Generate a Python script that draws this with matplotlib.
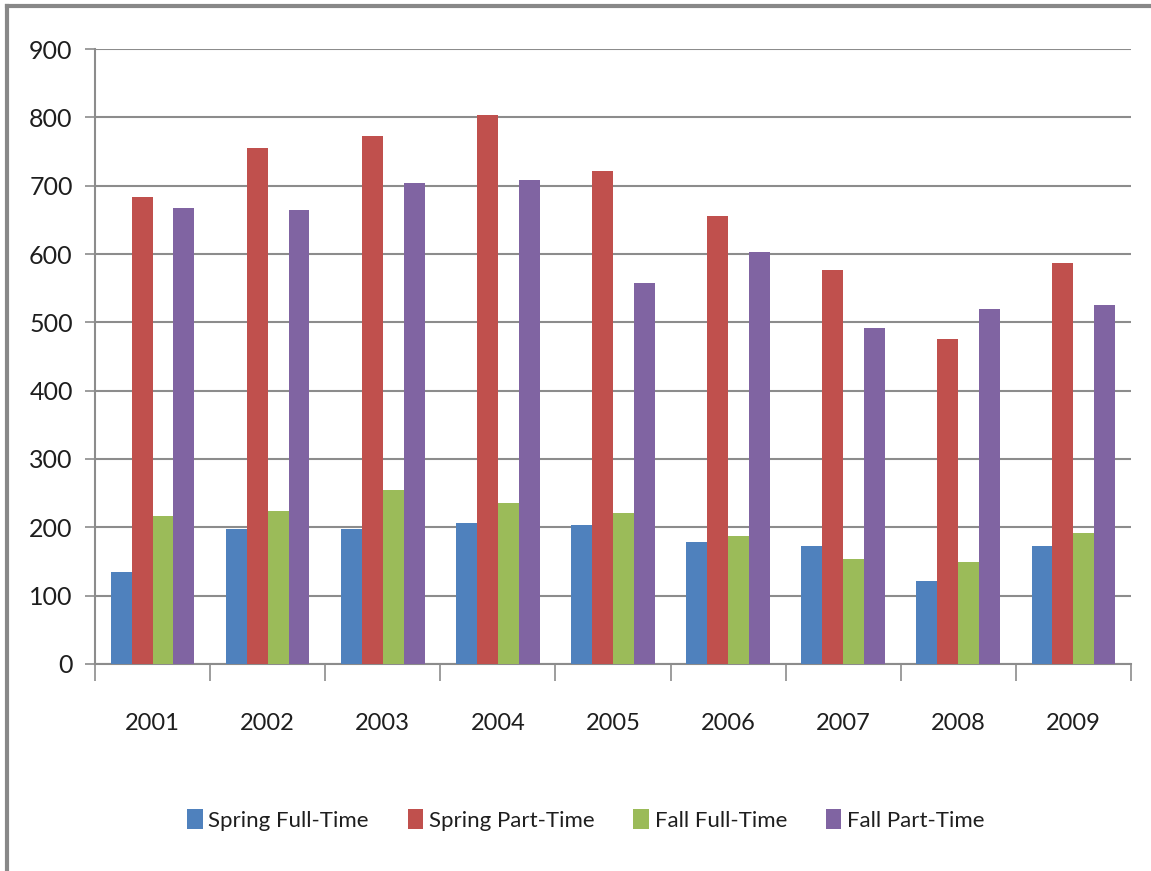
import matplotlib.pyplot as plt
from matplotlib.lines import Line2D
import numpy as np

years = ["2001", "2002", "2003", "2004", "2005", "2006", "2007", "2008", "2009"]
spring_full = [135, 197, 198, 206, 203, 178, 172, 121, 172]
spring_part = [683, 755, 773, 804, 722, 655, 577, 475, 587]
fall_full = [216, 224, 254, 235, 221, 188, 154, 149, 191]
fall_part = [668, 665, 704, 709, 557, 603, 491, 520, 526]

series = [
    ("Spring Full-Time", spring_full, "#4F81BD"),
    ("Spring Part-Time", spring_part, "#C0504D"),
    ("Fall Full-Time", fall_full, "#9BBB59"),
    ("Fall Part-Time", fall_part, "#8064A2"),
]

plt.rcParams["font.family"] = ["Lato", "DejaVu Sans"]
grid_color = "#8C8C8C"
text_color = "#1E1E1E"

fig = plt.figure(figsize=(11.51, 8.71), dpi=100)
ax = fig.add_axes([0.0825, 0.2377, 0.9001, 0.706])

# 150% gap width: each bar is 1/5.5 of a category
w = 1 / 5.5
x = np.arange(len(years))
for i, (name, vals, color) in enumerate(series):
    ax.bar(x + (i - 1.5) * w, vals, width=w, color=color, label=name, zorder=3)

ax.set_ylim(0, 900)
ax.set_xlim(-0.5, len(years) - 0.5)
ax.set_yticks(range(0, 901, 100))
ax.yaxis.grid(True, color=grid_color, linewidth=1.5, zorder=0)

# tick marks sit between categories, labels sit under each group
ax.set_xticks(np.arange(-0.5, len(years), 1))
ax.set_xticklabels([])
ax.set_xticks(x, minor=True)
ax.set_xticklabels(years, minor=True)
ax.tick_params(axis="x", which="major", length=12, width=1.2, color=grid_color)
ax.tick_params(axis="x", which="minor", length=0, pad=35, labelsize=17,
               labelcolor=text_color)
ax.tick_params(axis="y", length=7, width=1.2, color=grid_color, pad=9,
               labelsize=18, labelcolor=text_color)

for side in ("top", "right"):
    ax.spines[side].set_visible(False)
for side in ("left", "bottom"):
    ax.spines[side].set_color(grid_color)
    ax.spines[side].set_linewidth(1.5)

leg = fig.legend(loc="center", bbox_to_anchor=(0.509, 0.059), ncol=4, frameon=False,
                 fontsize=16, handlelength=0.7, handleheight=1.05, handletextpad=0.25,
                 columnspacing=1.75)
for t in leg.get_texts():
    t.set_color(text_color)

# outer frame edges along the top and left
fig.add_artist(Line2D([0.006, 1.0], [0.993, 0.993], color="#888888", linewidth=3,
                      transform=fig.transFigure))
fig.add_artist(Line2D([0.006, 0.006], [0.0, 0.993], color="#888888", linewidth=3,
                      transform=fig.transFigure))

fig.savefig("out.png", dpi=100, facecolor="white")
